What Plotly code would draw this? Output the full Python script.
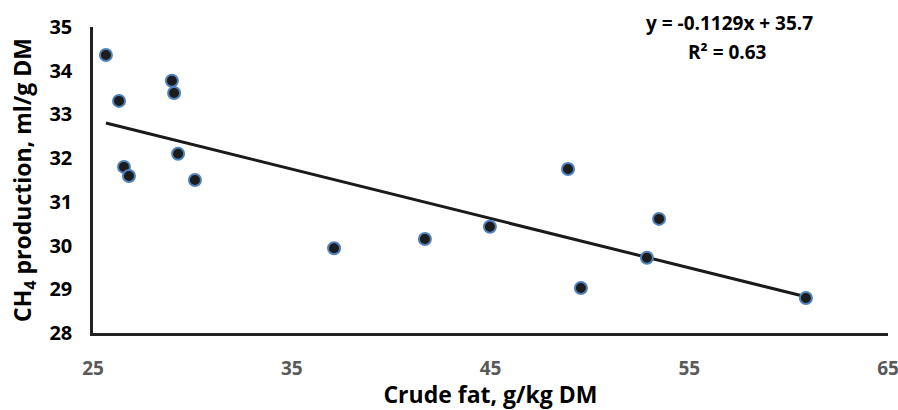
import plotly.graph_objects as go

# Crude fat content (g/kg DM) and CH4 production (ml/g DM)
crude_fat = [25.65, 26.31, 26.56, 26.81, 28.97, 29.08, 29.28, 30.13,
             37.13, 41.70, 44.97, 48.90, 49.55, 52.87, 53.48, 60.87]
ch4_production = [34.36, 33.31, 31.80, 31.59, 33.77, 33.49, 32.10, 31.50,
                  29.94, 30.15, 30.43, 31.75, 29.03, 29.72, 30.61, 28.80]

# Linear trend: y = slope * x + intercept
slope = -0.1129
intercept = 35.7
r_squared = 0.63

x_ticks = [25, 35, 45, 55, 65]
y_ticks = [28, 29, 30, 31, 32, 33, 34, 35]

font_family = "'Open Sans', sans-serif"

trend_x = [min(crude_fat), max(crude_fat)]
trend_y = [slope * v + intercept for v in trend_x]

fig = go.Figure()

fig.add_trace(go.Scatter(
    x=trend_x, y=trend_y, mode="lines",
    line=dict(color="#1a1a1a", width=3),
    hoverinfo="skip", showlegend=False,
))

fig.add_trace(go.Scatter(
    x=crude_fat, y=ch4_production, mode="markers",
    marker=dict(size=12, color="#1c1c1c",
                line=dict(color="#4f81bd", width=2)),
    showlegend=False,
))

fig.add_annotation(
    text=f"<b>y = {slope}x + {intercept}</b>", xref="paper", yref="paper",
    x=0.801, y=1.013, xanchor="center", yanchor="middle", showarrow=False,
    font=dict(family=font_family, size=19, color="#000000"),
)
fig.add_annotation(
    text=f"<b>R² = {r_squared}</b>", xref="paper", yref="paper",
    x=0.798, y=0.918, xanchor="center", yanchor="middle", showarrow=False,
    font=dict(family=font_family, size=19, color="#000000"),
)

fig.update_layout(
    width=898, height=410,
    margin=dict(l=93, r=10, t=27, b=77),
    paper_bgcolor="white", plot_bgcolor="white",
    font=dict(family=font_family),
    xaxis=dict(
        range=[25, 65], tickvals=x_ticks,
        ticktext=[f"<b>{v}</b>" for v in x_ticks],
        showgrid=False, zeroline=False, automargin=False,
        showline=True, linecolor="#222222", linewidth=2.5,
        ticks="", ticklabelstandoff=16, ticklabeloverflow="allow",
        tickfont=dict(family=font_family, size=19, color="#595959"),
        title=dict(text="<b>Crude fat, g/kg DM</b>", standoff=2,
                   font=dict(family=font_family, size=23, color="#000000")),
    ),
    yaxis=dict(
        range=[28, 35], tickvals=y_ticks,
        ticktext=[f"<b>{v}</b>" for v in y_ticks],
        showgrid=False, zeroline=False, automargin=False,
        showline=True, linecolor="#222222", linewidth=2.5,
        ticks="", ticklabelstandoff=14,
        tickfont=dict(family=font_family, size=20, color="#000000"),
        title=dict(text="<b>CH<sub>4</sub> production, ml/g DM</b>", standoff=12,
                   font=dict(family=font_family, size=23, color="#000000")),
    ),
)

fig.write_html("out.html")
